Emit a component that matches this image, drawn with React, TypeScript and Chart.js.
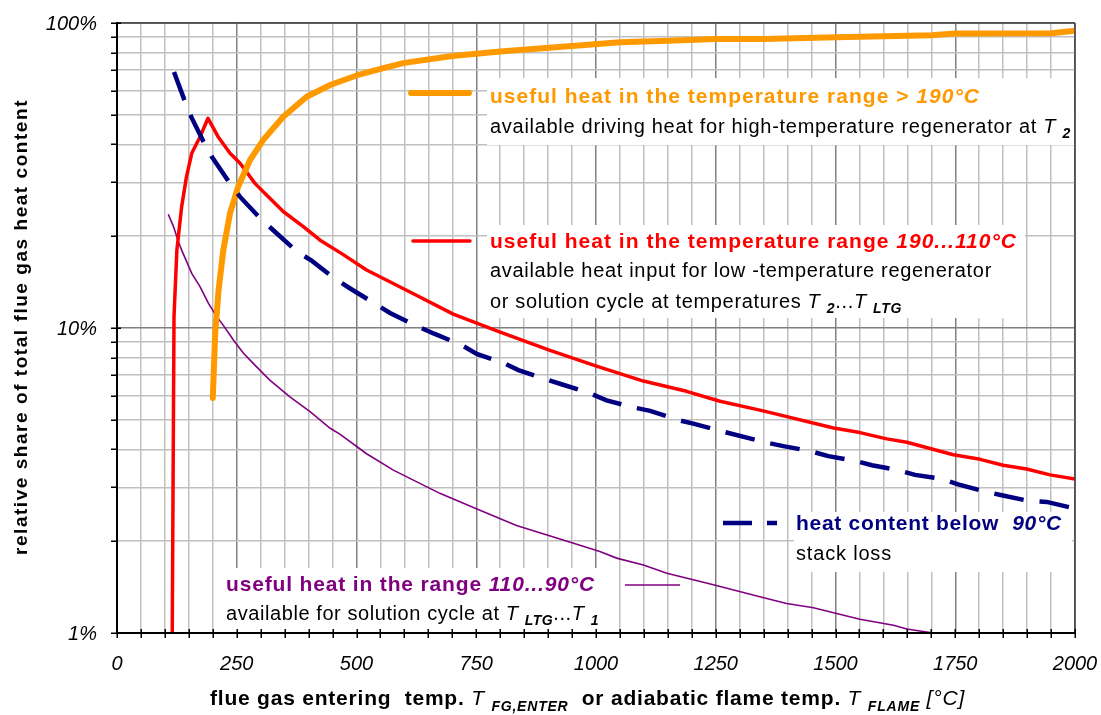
import React, { useEffect, useRef } from "react";
import { Chart, registerables } from "chart.js";

Chart.register(...registerables);

const FONT = '"Liberation Sans", Arial, Helvetica, sans-serif';

// Useful heat above 190 °C (share of total flue gas heat, %)
const above190Temp = [200, 205, 212, 222, 236, 253, 278, 305, 347, 396, 445, 500, 550, 600, 700, 800, 950, 1050, 1150, 1250, 1350, 1500, 1700, 1750, 1950, 2000];
const above190Share = [5.9, 9.6, 13.3, 18.0, 23.8, 29.1, 35.6, 41.3, 49.3, 57.3, 62.6, 67.3, 70.7, 74.0, 78.0, 80.6, 84.0, 86.5, 87.5, 88.6, 88.6, 89.8, 91.1, 92.3, 92.5, 94.4];

// Useful heat between 190 and 110 °C
const range190to110Temp = [115, 119, 125, 135, 145, 156, 173, 190, 211, 236, 257, 288, 309, 347, 389, 424, 470, 521, 625, 702, 800, 904, 1001, 1099, 1189, 1259, 1349, 1496, 1551, 1607, 1649, 1746, 1802, 1850, 1899, 1948, 2000];
const range190to110Share = [0.8, 10.9, 18.0, 25.0, 31.3, 37.4, 42.2, 48.7, 42.4, 37.4, 34.7, 29.8, 27.6, 24.1, 21.5, 19.4, 17.5, 15.5, 12.8, 11.1, 9.7, 8.45, 7.5, 6.7, 6.2, 5.75, 5.35, 4.7, 4.54, 4.33, 4.22, 3.84, 3.71, 3.55, 3.45, 3.3, 3.2];

// Heat content below 90 °C (stack loss)
const below90Temp = [119, 140, 155, 180, 198, 234, 257, 300, 328, 376, 407, 455, 486, 539, 570, 629, 662, 719, 751, 806, 838, 893, 928, 987, 1022, 1078, 1113, 1172, 1203, 1259, 1356, 1391, 1447, 1485, 1537, 1576, 1631, 1666, 1722, 1756, 1812, 1847, 1903, 1941, 2000];
const below90Share = [69.1, 56.3, 49.2, 41.0, 36.4, 30.1, 26.9, 22.8, 20.8, 17.8, 16.6, 14.5, 13.5, 12.0, 11.2, 10.1, 9.58, 8.8, 8.22, 7.69, 7.28, 6.81, 6.54, 6.11, 5.79, 5.49, 5.35, 4.99, 4.86, 4.6, 4.21, 4.1, 3.95, 3.8, 3.68, 3.55, 3.42, 3.3, 3.2, 3.07, 2.91, 2.83, 2.71, 2.69, 2.56];

// Useful heat between 110 and 90 °C
const range110to90Temp = [107, 118, 128, 135, 156, 173, 191, 208, 222, 243, 264, 291, 319, 361, 403, 445, 466, 521, 577, 674, 744, 834, 918, 1008, 1043, 1099, 1148, 1245, 1342, 1398, 1454, 1496, 1551, 1621, 1649, 1704, 1730];
const range110to90Share = [23.6, 21.5, 19.2, 18.0, 15.1, 13.7, 12.05, 10.9, 10.2, 9.13, 8.26, 7.47, 6.75, 5.95, 5.32, 4.69, 4.48, 3.87, 3.42, 2.87, 2.58, 2.25, 2.05, 1.85, 1.76, 1.67, 1.57, 1.44, 1.315, 1.25, 1.21, 1.166, 1.11, 1.06, 1.03, 1.0, 0.98];

// Axis ticks
const xLabelValues = [0, 250, 500, 750, 1000, 1250, 1500, 1750, 2000];
const yGridValues = [1, 2, 3, 4, 5, 6, 7, 8, 9, 10, 20, 30, 40, 50, 60, 70, 80, 90, 100];
const yLabelValues = [1, 10, 100];

const ORANGE = "#FF9900";
const RED = "#FF0000";
const NAVY = "#000080";
const PURPLE = "#800080";

// Plot rectangle on the canvas
const AREA = { left: 117, top: 23, right: 1075, bottom: 633 };

type Kind = "b" | "bi" | "r" | "i" | "sub";
type Seg = { text: string; kind: Kind };

function fontFor(kind: Kind, size: number): string {
  switch (kind) {
    case "b":
      return `bold ${size}px ${FONT}`;
    case "bi":
      return `italic bold ${size}px ${FONT}`;
    case "i":
      return `italic ${size}px ${FONT}`;
    case "sub":
      return `italic bold ${Math.round(size * 0.68)}px ${FONT}`;
    default:
      return `${size}px ${FONT}`;
  }
}

// Draws a line of mixed-style text stretched to a given width via letter spacing.
function drawRich(ctx: CanvasRenderingContext2D, segs: Seg[], x: number, y: number, width: number, size: number, color: string) {
  ctx.save();
  ctx.fillStyle = color;
  ctx.textBaseline = "middle";
  ctx.textAlign = "left";
  (ctx as any).letterSpacing = "0px";
  const widths: number[] = [];
  let natural = 0;
  let chars = 0;
  for (const s of segs) {
    ctx.font = fontFor(s.kind, size);
    const w = ctx.measureText(s.text).width;
    widths.push(w);
    natural += w;
    chars += Array.from(s.text).length;
  }
  const sp = chars > 0 ? (width - natural) / chars : 0;
  (ctx as any).letterSpacing = `${sp}px`;
  let cx = x;
  segs.forEach((s, i) => {
    ctx.font = fontFor(s.kind, size);
    const dy = s.kind === "sub" ? size * 0.38 : 0;
    ctx.fillText(s.text, cx, y + dy);
    cx += widths[i] + sp * Array.from(s.text).length;
  });
  ctx.restore();
}

const legendBoxes = [
  { x: 487, y: 78, w: 587, h: 67 },
  { x: 487, y: 225, w: 538, h: 93 },
  { x: 794, y: 512, w: 278, h: 60 },
  { x: 220, y: 568, w: 385, h: 64 },
];

const overlayPlugin = {
  id: "overlay",
  beforeDatasetsDraw(chart: any) {
    const ctx: CanvasRenderingContext2D = chart.ctx;
    ctx.save();
    ctx.fillStyle = "#FFFFFF";
    for (const b of legendBoxes) ctx.fillRect(b.x, b.y, b.w, b.h);
    ctx.restore();
  },
  afterDatasetsDraw(chart: any) {
    const ctx: CanvasRenderingContext2D = chart.ctx;
    const { left, right, top, bottom } = chart.chartArea;
    const xs = chart.scales.x;
    const ys = chart.scales.y;

    ctx.save();
    // frame
    ctx.lineWidth = 1.5;
    ctx.strokeStyle = "#404040";
    ctx.beginPath();
    ctx.moveTo(left, top);
    ctx.lineTo(right, top);
    ctx.moveTo(right, top);
    ctx.lineTo(right, bottom);
    ctx.stroke();
    ctx.lineWidth = 2;
    ctx.strokeStyle = "#000";
    ctx.beginPath();
    ctx.moveTo(left, top - 1);
    ctx.lineTo(left, bottom);
    ctx.lineTo(right, bottom);
    ctx.stroke();

    // tick marks
    ctx.lineWidth = 1.5;
    ctx.beginPath();
    for (let v = 0; v <= 2000; v += 50) {
      const px = Math.round(xs.getPixelForValue(v)) + 0.25;
      ctx.moveTo(px, bottom - 4);
      ctx.lineTo(px, bottom + 5);
    }
    for (const v of yGridValues) {
      const py = Math.round(ys.getPixelForValue(v)) + 0.25;
      ctx.moveTo(left - 6, py);
      ctx.lineTo(yLabelValues.includes(v) ? left + 4 : left, py);
    }
    ctx.stroke();

    // tick labels
    ctx.fillStyle = "#000";
    ctx.font = `italic 20px ${FONT}`;
    ctx.textBaseline = "middle";
    ctx.textAlign = "center";
    for (const v of xLabelValues) ctx.fillText(String(v), xs.getPixelForValue(v), bottom + 31);
    ctx.textAlign = "right";
    for (const v of yLabelValues) ctx.fillText(`${v}%`, left - 20, ys.getPixelForValue(v) + 1);

    // legend samples
    ctx.lineCap = "round";
    ctx.strokeStyle = ORANGE;
    ctx.lineWidth = 6;
    ctx.beginPath();
    ctx.moveTo(411, 93);
    ctx.lineTo(469, 93);
    ctx.stroke();

    ctx.strokeStyle = RED;
    ctx.lineWidth = 3.5;
    ctx.beginPath();
    ctx.moveTo(413, 241);
    ctx.lineTo(470, 241);
    ctx.stroke();

    ctx.lineCap = "butt";
    ctx.strokeStyle = NAVY;
    ctx.lineWidth = 4.5;
    ctx.setLineDash([29, 15]);
    ctx.beginPath();
    ctx.moveTo(723, 523);
    ctx.lineTo(777, 523);
    ctx.stroke();
    ctx.setLineDash([]);

    ctx.strokeStyle = PURPLE;
    ctx.lineWidth = 1.5;
    ctx.beginPath();
    ctx.moveTo(625, 585);
    ctx.lineTo(680, 585);
    ctx.stroke();
    ctx.restore();

    // legend texts
    drawRich(ctx, [{ text: "useful heat in the temperature range > ", kind: "b" }, { text: "190°C", kind: "bi" }], 490, 97, 490, 21, ORANGE);
    drawRich(ctx, [{ text: "available driving heat for high-temperature regenerator at ", kind: "r" }, { text: "T ", kind: "i" }, { text: "2", kind: "sub" }], 490, 127, 581, 20, "#000");

    drawRich(ctx, [{ text: "useful heat in the temperature range ", kind: "b" }, { text: "190...110°C", kind: "bi" }], 490, 242, 527, 21, RED);
    drawRich(ctx, [{ text: "available heat input for low -temperature regenerator", kind: "r" }], 490, 271, 502, 20, "#000");
    drawRich(ctx, [{ text: "or solution cycle at temperatures ", kind: "r" }, { text: "T ", kind: "i" }, { text: "2", kind: "sub" }, { text: "...", kind: "r" }, { text: "T ", kind: "i" }, { text: "LTG", kind: "sub" }], 490, 302, 412, 20, "#000");

    drawRich(ctx, [{ text: "heat content below  ", kind: "b" }, { text: "90°C", kind: "bi" }], 796, 524, 266, 21, NAVY);
    drawRich(ctx, [{ text: "stack loss", kind: "r" }], 796, 554, 96, 20, "#000");

    drawRich(ctx, [{ text: "useful heat in the range ", kind: "b" }, { text: "110...90°C", kind: "bi" }], 226, 585, 369, 21, PURPLE);
    drawRich(ctx, [{ text: "available for solution cycle at ", kind: "r" }, { text: "T ", kind: "i" }, { text: "LTG", kind: "sub" }, { text: "...", kind: "r" }, { text: "T ", kind: "i" }, { text: "1", kind: "sub" }], 226, 614, 373, 20, "#000");

    // axis titles
    drawRich(
      ctx,
      [
        { text: "flue gas entering  temp. ", kind: "b" },
        { text: "T ", kind: "i" },
        { text: "FG,ENTER", kind: "sub" },
        { text: "  or adiabatic flame temp. ", kind: "b" },
        { text: "T ", kind: "i" },
        { text: "FLAME", kind: "sub" },
        { text: " [°C]", kind: "i" },
      ],
      210,
      699,
      755,
      21,
      "#000"
    );
    ctx.save();
    ctx.translate(22, 327);
    ctx.rotate(-Math.PI / 2);
    drawRich(ctx, [{ text: "relative share of total flue gas heat content", kind: "b" }], -228, 0, 456, 19, "#000");
    ctx.restore();
  },
};

export default function App() {
  const canvasRef = useRef<HTMLCanvasElement | null>(null);

  useEffect(() => {
    const canvas = canvasRef.current;
    if (!canvas) return;
    const pts = (t: number[], v: number[]) => t.map((x, i) => ({ x, y: v[i] }));
    const chart = new Chart(canvas, {
      type: "line",
      data: {
        datasets: [
          {
            label: "heat content below 90°C",
            data: pts(below90Temp, below90Share),
            borderColor: NAVY,
            borderWidth: 4.5,
            borderDash: [30, 16],
            borderCapStyle: "butt",
            pointRadius: 0,
            tension: 0,
            fill: false,
            clip: 0,
          },
          {
            label: "useful heat > 190°C",
            data: pts(above190Temp, above190Share),
            borderColor: ORANGE,
            borderWidth: 6,
            borderCapStyle: "round",
            borderJoinStyle: "round",
            pointRadius: 0,
            tension: 0,
            fill: false,
            clip: 0,
          },
          {
            label: "useful heat 190...110°C",
            data: pts(range190to110Temp, range190to110Share),
            borderColor: RED,
            borderWidth: 3.5,
            borderCapStyle: "round",
            borderJoinStyle: "round",
            pointRadius: 0,
            tension: 0,
            fill: false,
            clip: 0,
          },
          {
            label: "useful heat 110...90°C",
            data: pts(range110to90Temp, range110to90Share),
            borderColor: PURPLE,
            borderWidth: 1.6,
            pointRadius: 0,
            tension: 0,
            fill: false,
            clip: 0,
          },
        ],
      },
      options: {
        responsive: false,
        animation: false,
        events: [],
        layout: { padding: { left: 0, top: AREA.top, right: 1101 - AREA.right, bottom: 0 } },
        plugins: {
          legend: { display: false },
          tooltip: { enabled: false },
          title: { display: false },
        },
        scales: {
          x: {
            type: "linear",
            min: 0,
            max: 2000,
            afterFit: (s: any) => {
              s.height = 715 - AREA.bottom;
            },
            ticks: { display: false, stepSize: 50, autoSkip: false },
            grid: {
              drawTicks: false,
              lineWidth: 1.5,
              color: (c: any) => (c.tick && c.tick.value % 250 === 0 ? "#808080" : "#C0C0C0"),
            },
            border: { display: true, color: "#000", width: 2 },
          },
          y: {
            type: "logarithmic",
            min: 1,
            max: 100,
            afterFit: (s: any) => {
              s.width = AREA.left;
            },
            afterBuildTicks: (s: any) => {
              s.ticks = yGridValues.map((v) => ({ value: v }));
            },
            ticks: { display: false, autoSkip: false },
            grid: {
              drawTicks: false,
              lineWidth: 1.5,
              color: (c: any) => (c.tick && (c.tick.value === 10 || c.tick.value === 100) ? "#808080" : "#C0C0C0"),
            },
            border: { display: true, color: "#000", width: 2 },
          },
        },
      },
      plugins: [overlayPlugin],
    } as any);
    return () => chart.destroy();
  }, []);

  return (
    <div style={{ position: "absolute", left: 0, top: 0, width: 1101, height: 715, background: "#fff" }}>
      <canvas ref={canvasRef} width={1101} height={715} style={{ display: "block" }} />
    </div>
  );
}
